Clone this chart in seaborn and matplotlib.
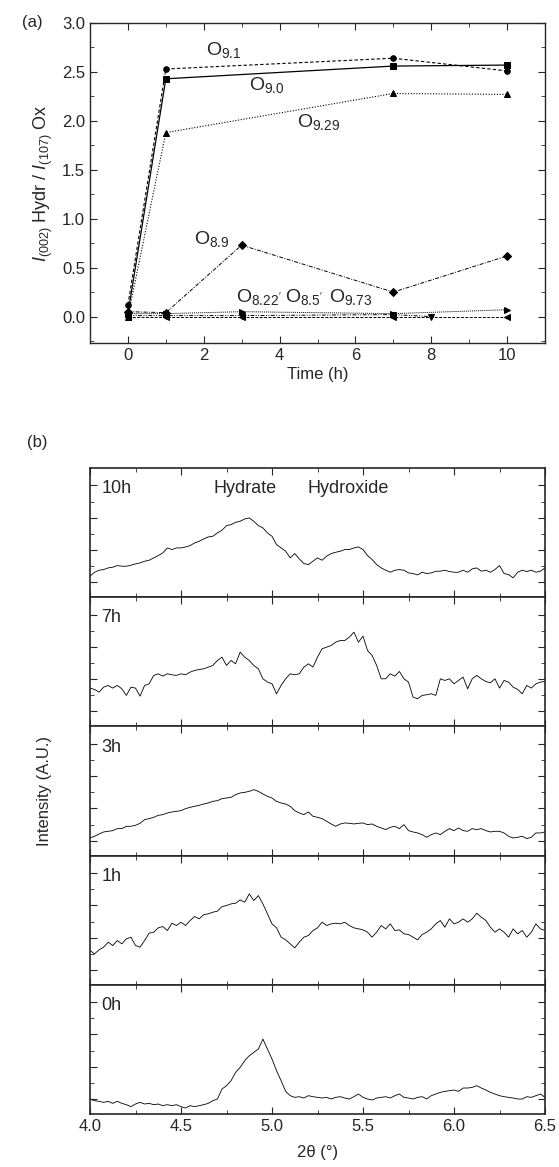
import numpy as np
import pandas as pd
import matplotlib
matplotlib.use("Agg")
import matplotlib.pyplot as plt
from matplotlib.ticker import MultipleLocator
import seaborn as sns

# --- (a) peak ratio vs time ---
t_91 = [0, 1, 7, 10]
r_91 = [0.12, 2.53, 2.64, 2.51]
t_90 = [0, 1, 7, 10]
r_90 = [0.03, 2.43, 2.56, 2.57]
t_929 = [0, 1, 7, 10]
r_929 = [0.00, 1.88, 2.28, 2.27]
t_89 = [0, 1, 3, 7, 10]
r_89 = [0.05, 0.04, 0.73, 0.25, 0.62]
t_822 = [0, 1, 3, 7, 10]
r_822 = [0.03, 0.03, 0.05, 0.03, 0.07]
t_85 = [0, 1, 3, 7, 8]
r_85 = [0.01, 0.01, 0.01, 0.02, 0.00]
t_973 = [0, 1, 3, 7, 10]
r_973 = [0.00, 0.00, 0.00, 0.00, 0.00]

# --- (b) XRD scans, 2theta 4.0 -> 6.5 every 0.025 deg (arbitrary units) ---
xrd_10h = [63, 75, 81, 83, 88, 90, 95, 93, 93, 96, 100, 103, 108, 111, 118, 125, 133, 148, 143, 148,
           148, 151, 155, 163, 168, 175, 181, 183, 193, 201, 215, 218, 225, 228, 235, 238, 228, 215, 208, 193,
           183, 158, 148, 138, 118, 131, 115, 101, 98, 108, 118, 111, 123, 131, 135, 138, 143, 143, 148, 151,
           143, 125, 113, 98, 88, 81, 75, 81, 83, 81, 73, 71, 67, 75, 71, 73, 78, 78, 81, 77,
           75, 75, 81, 75, 85, 88, 78, 81, 75, 83, 95, 71, 68, 58, 75, 81, 77, 81, 75, 78, 88]
xrd_7h = [115, 111, 103, 118, 123, 115, 123, 113, 93, 118, 115, 91, 123, 128, 153, 158, 151, 158, 155, 153,
          158, 155, 163, 168, 171, 173, 178, 183, 198, 208, 183, 198, 188, 223, 208, 198, 183, 173, 143, 133,
          128, 98, 123, 143, 158, 155, 158, 178, 188, 178, 208, 233, 238, 243, 253, 258, 258, 268, 283, 253,
          271, 228, 213, 183, 143, 143, 158, 151, 165, 143, 133, 88, 83, 93, 95, 98, 93, 143, 138, 143,
          128, 138, 148, 113, 143, 153, 143, 135, 131, 143, 115, 138, 133, 118, 111, 98, 123, 115, 128, 133, 135]
xrd_3h = [53, 58, 65, 71, 73, 75, 81, 81, 88, 88, 91, 97, 108, 111, 115, 121, 123, 128, 131, 133,
          135, 141, 145, 148, 151, 155, 158, 163, 165, 171, 173, 175, 183, 188, 190, 193, 198, 193, 185, 178,
          173, 163, 158, 155, 148, 135, 128, 123, 131, 118, 115, 111, 103, 95, 88, 95, 98, 97, 95, 97,
          98, 93, 95, 88, 83, 78, 85, 88, 81, 93, 75, 71, 68, 63, 55, 63, 68, 63, 73, 81,
          75, 83, 75, 73, 81, 78, 81, 75, 71, 73, 73, 68, 58, 53, 55, 58, 51, 55, 68, 68, 71]
xrd_1h = [103, 93, 105, 113, 128, 118, 133, 123, 138, 143, 118, 113, 133, 155, 158, 171, 175, 163, 185, 178,
          188, 178, 193, 205, 198, 211, 213, 218, 221, 235, 238, 243, 245, 255, 248, 273, 253, 268, 243, 213,
          183, 171, 143, 135, 123, 111, 128, 143, 148, 163, 171, 188, 178, 183, 185, 183, 188, 178, 171, 168,
          165, 158, 143, 158, 178, 168, 183, 163, 165, 153, 151, 143, 135, 151, 158, 168, 183, 193, 173, 198,
          183, 188, 198, 188, 198, 215, 203, 193, 173, 158, 168, 158, 143, 168, 153, 163, 143, 158, 183, 168, 163]
xrd_0h = [45, 40, 38, 35, 38, 32, 38, 32, 28, 22, 30, 35, 30, 32, 28, 30, 25, 28, 25, 28,
          22, 18, 25, 22, 25, 28, 32, 40, 45, 75, 85, 100, 125, 140, 160, 175, 185, 195, 225, 195,
          165, 130, 100, 68, 55, 50, 52, 48, 55, 52, 50, 48, 50, 45, 50, 52, 48, 45, 52, 60,
          50, 45, 42, 48, 50, 52, 48, 55, 60, 50, 48, 45, 50, 52, 45, 55, 60, 65, 68, 70,
          72, 68, 78, 78, 80, 85, 78, 72, 65, 60, 55, 52, 50, 48, 45, 45, 52, 50, 55, 60, 50]
scan_labels = ["10h", "7h", "3h", "1h", "0h"]
scans = [xrd_10h, xrd_7h, xrd_3h, xrd_1h, xrd_0h]

sns.set_style("ticks")
plt.rcParams["font.family"] = ["Liberation Sans", "DejaVu Sans"]
plt.rcParams["mathtext.fontset"] = "custom"
plt.rcParams["mathtext.rm"] = "Liberation Sans"
plt.rcParams["mathtext.it"] = "Liberation Sans:italic"
plt.rcParams["xtick.direction"] = "in"
plt.rcParams["ytick.direction"] = "in"

W, H = 559, 1167
fig = plt.figure(figsize=(W / 100, H / 100), dpi=100)

def box(l, t, r, b):
    return [l / W, 1 - b / H, (r - l) / W, (b - t) / H]

# ---------------- (a) ----------------
ax = fig.add_axes(box(90, 23, 545, 343))
series = [
    (t_91, r_91, "o", (0, (3, 2)), 0.8),
    (t_90, r_90, "s", "-", 0.9),
    (t_929, r_929, "^", (0, (1, 1.5)), 0.8),
    (t_89, r_89, "D", (0, (4, 1.5, 1, 1.5)), 0.7),
    (t_822, r_822, ">", (0, (1, 1)), 0.7),
    (t_85, r_85, "v", (0, (4, 1.5, 1, 1.5, 1, 1.5)), 0.7),
    (t_973, r_973, "<", (0, (3, 1.5)), 0.7),
]
for t, r, mk, ls, lw in series:
    sns.lineplot(x=t, y=r, ax=ax, color="black", marker=mk, markersize=4,
                 markeredgecolor="black", linestyle=ls, linewidth=lw, sort=False)

ax.set_xlim(-1, 11)
ax.set_ylim(-0.27, 3.0)
ax.xaxis.set_major_locator(MultipleLocator(2))
ax.xaxis.set_minor_locator(MultipleLocator(1))
ax.yaxis.set_major_locator(MultipleLocator(0.5))
ax.yaxis.set_minor_locator(MultipleLocator(0.25))
ax.tick_params(which="both", top=True, right=True, labelsize=12)
ax.tick_params(which="major", length=5)
ax.tick_params(which="minor", length=3)
ax.set_xlabel("Time (h)", fontsize=12, labelpad=3)
ax.set_ylabel(r"$\mathit{I}_{(002)}$ Hydr / $\mathit{I}_{(107)}$ Ox", fontsize=13, labelpad=5)
for s in ax.spines.values():
    s.set_linewidth(1.0)

lbls = [(2.05, 2.72, "9.1"), (3.2, 2.37, "9.0"), (4.45, 1.99, "9.29"), (1.75, 0.79, "8.9"),
        (2.85, 0.2, "8.22'"), (4.15, 0.2, "8.5'"), (5.3, 0.2, "9.73")]
for x, y, sub in lbls:
    ax.text(x, y, "O$_{%s}$" % sub, fontsize=14, ha="left", va="center")

fig.text(22 / W, 1 - 23 / H, "(a)", fontsize=12, va="center", ha="left")
fig.text(27 / W, 1 - 443 / H, "(b)", fontsize=12, va="center", ha="left")

# ---------------- (b) ----------------
top, bot = 468, 1114
ph = (bot - top) / 5
for i, (lab, vals) in enumerate(zip(scan_labels, scans)):
    a = fig.add_axes(box(90, top + i * ph, 545, top + (i + 1) * ph))
    x = np.linspace(4.0, 6.5, len(vals))
    sns.lineplot(x=x, y=vals, ax=a, color="black", linewidth=0.6)
    a.set_xlim(4.0, 6.5)
    a.set_ylim(0, 388)
    a.xaxis.set_major_locator(MultipleLocator(0.5))
    a.xaxis.set_minor_locator(MultipleLocator(0.25))
    a.set_yticks([45, 142, 239, 336])
    a.set_yticks([93, 190, 287], minor=True)
    a.tick_params(which="both", top=True, right=True, labelleft=False, labelsize=12)
    a.tick_params(which="major", length=5)
    a.tick_params(which="minor", length=3)
    if i < 4:
        a.tick_params(labelbottom=False)
    for s in a.spines.values():
        s.set_linewidth(1.2)
    a.text(0.025, 0.84, lab, transform=a.transAxes, fontsize=13, va="center", ha="left")
    if i == 0:
        a.text(4.85, 325, "Hydrate", fontsize=13, ha="center", va="center")
        a.text(5.42, 325, "Hydroxide", fontsize=13, ha="center", va="center")
    if i == 4:
        a.set_xlabel("2θ (°)", fontsize=12, labelpad=8)

fig.text(45 / W, 1 - 791 / H, "Intensity (A.U.)", rotation=90, fontsize=12,
         ha="center", va="center")

fig.savefig("out.png", dpi=100)
